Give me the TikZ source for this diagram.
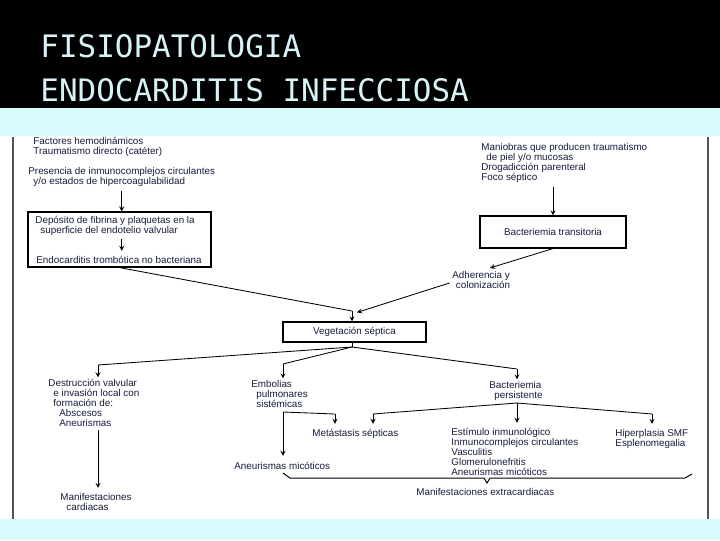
\documentclass[tikz,border=0pt]{standalone}
\usepackage{fontspec}
\setmainfont{Liberation Sans}
\newfontfamily\titlefont{DejaVu Sans Mono}
\usetikzlibrary{calc}

\definecolor{ink}{HTML}{161C3A}
\definecolor{band}{HTML}{D9FBFE}
\definecolor{titlecol}{HTML}{D8F3F8}
\definecolor{frame}{HTML}{50505A}

\newcommand{\tab}[1]{\hspace*{#1}}

\begin{document}
\begin{tikzpicture}[
    x=0.025cm, y=-0.025cm,
    >=stealth,
    line width=0.6pt,
    every node/.style={font=\fontsize{7}{7.11}\selectfont, text=ink, inner sep=0pt},
    lbl/.style={anchor=base west, align=left},
    box/.style={draw=black, line width=0.8pt},
    title/.style={anchor=base west, font=\titlefont\fontsize{22}{22}\selectfont, text=titlecol},
]
\useasboundingbox (0,0) rectangle (720,540);

% === Slide background ===
\fill[band] (0,0) rectangle (720,540);
\fill[black] (0,0) rectangle (720,108);
\fill[white] (0,136) rectangle (720,519);
\draw[frame, line width=1.2pt] (13,137) -- (13,519);
\draw[frame, line width=1.2pt] (708,137) -- (708,519);

% Title
\node[title] (t1) at (40,57) {FISIOPATOLOGIA};
\node[title] (t2) at (40,101) {ENDOCARDITIS INFECCIOSA};

% === Upper left: non-bacterial thrombotic path ===
% (multi-line labels sit on the baseline of their last line)
\node[lbl] (fact) at (33,154.5) {Factores hemodinámicos\\Traumatismo directo (catéter)};
\node[lbl] (pres) at (28,184.5) {Presencia de inmunocomplejos circulantes\\\tab{0.125cm}y/o estados de hipercoagulabilidad};

\node[box, minimum width=4.575cm, minimum height=1.375cm] (dep) at (119.5,239.5) {};
\node[lbl] (dep1) at (35,233.5) {Depósito de fibrina y plaquetas en la\\\tab{0.125cm}superficie del endotelio valvular};
\node[lbl] (endo) at (36,263.5) {Endocarditis trombótica no bacteriana};

\draw[->] ($(pres.south)+(0,4)$) -- (pres.south |- dep.north);
\draw[->] ($(dep1.south -| pres.south)+(0,3)$) -- ($(endo.north -| pres.south)+(0,-5)$);

% === Upper right: transient bacteraemia ===
\node[lbl] (man) at (481,180.5) {Maniobras que producen traumatismo\\\tab{0.125cm}de piel y/o mucosas\\Drogadicción parenteral\\Foco séptico};
\node[box, minimum width=3.65cm, minimum height=0.8cm] (bact) at (553,232) {Bacteriemia transitoria};
\node[anchor=base, align=center] (adh) at (481,288.5) {Adherencia y\\\tab{0.1cm}colonización};

\draw[->] ($(man.south -| bact.north)+(0,4)$) -- (bact.north);
\draw[->] (bact.south) -- ($(adh.north)+(9,-3)$);

% === Septic vegetation ===
\node[box, minimum width=3.575cm, minimum height=0.5cm] (veg) at (354.5,332) {Vegetación séptica};
\coordinate (j1) at (352,311);
\draw (dep.south) -- (j1);
\draw[->] (j1) -- (j1 |- veg.north);
\draw[->] ($(adh.west)+(-2,3)$) -- ($(veg.north)+(2.5,-9)$);

% === Consequences ===
\node[lbl] (dest) at (48,426.5) {Destrucción valvular\\\tab{0.125cm}e invasión local con\\\tab{0.125cm}formación de:\\\tab{0.275cm}Abscesos\\\tab{0.275cm}Aneurismas};
\node[lbl] (manif) at (60,510.5) {Manifestaciones\\\tab{0.15cm}cardiacas};
\node[lbl] (emb) at (251,407.5) {Embolias\\\tab{0.125cm}pulmonares\\\tab{0.125cm}sistémicas};
\node[lbl] (met) at (312,436.5) {Metástasis sépticas};
\node[lbl] (aneu) at (234,469.5) {Aneurismas micóticos};
\node[lbl] (bp) at (489,398.5) {Bacteriemia\\\tab{0.125cm}persistente};
\node[lbl] (est) at (451,475.5) {Estímulo inmunológico\\Inmunocomplejos circulantes\\Vasculitis\\Glomerulonefritis\\Aneurismas micóticos};
\node[lbl] (hip) at (615,446.5) {Hiperplasia SMF\\Esplenomegalia};
\node[lbl] (extra) at (416,495.5) {Manifestaciones extracardiacas};

% fan out of the vegetation
\coordinate (f0) at (352,347);
\coordinate (fL) at (98,365);
\coordinate (fM) at (283,364);
\coordinate (fR) at (517,369);
\draw (j1 |- veg.south) -- (f0);
\draw (f0) -- (fL);
\draw (f0) -- (fM);
\draw (f0) -- (fR);
\draw[->] (fL) -- ($(fL |- dest.north)+(0,-1.5)$);
\draw[->] (fM) -- ($(fM |- emb.north)+(0,-1.5)$);
\draw[->] (fR) -- ($(fR |- bp.north)+(0,-1.5)$);

% valvular destruction -> cardiac
\draw[->] ($(dest.south -| fL)+(0,3)$) -- ($(fL |- manif.north)+(0,-5)$);

% emboli
\coordinate (eB) at (283,412);
\coordinate (eR) at (335,414);
\draw[->] (eB) -- ($(eB |- aneu.north)+(0,-6)$);
\draw (eB) -- (eR);
\draw[->] (eR) -- ($(eR |- met.north)+(0,-5)$);

% persistent bacteraemia
\coordinate (bB) at (517,403);
\coordinate (bL) at (373,414);
\coordinate (bR) at (652,414);
\draw (bB) -- (bL);
\draw (bB) -- (bR);
\draw[->] (bL) -- ($(bL |- met.north)+(0,-5)$);
\draw[->] (bB) -- ($(bB |- est.north)+(0,-5)$);
\draw[->] (bR) -- ($(bR |- hip.north)+(0,-5)$);

% brace over the extracardiac group
\draw[line width=0.7pt] (283,473) -- (290,478) -- (484,478) -- (487,483) -- (490,478) -- (685,478) -- (692,474);

\end{tikzpicture}
\end{document}
